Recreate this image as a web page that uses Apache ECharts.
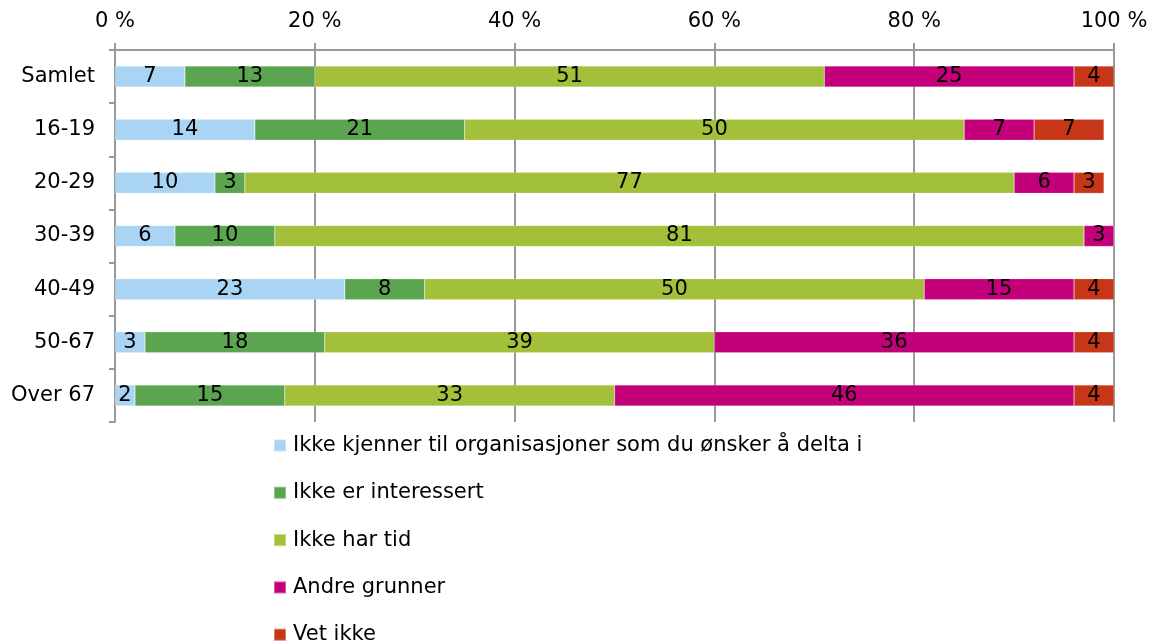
<!DOCTYPE html>
<html>
<head>
<meta charset="utf-8">
<script src="https://cdn.jsdelivr.net/npm/echarts@6/dist/echarts.min.js"></script>
<style>
  html, body { margin: 0; padding: 0; background: #fff; }
  #chart { width: 1158px; height: 644px; }
</style>
</head>
<body>
<div id="chart"></div>
<script>
// Age groups (top to bottom)
const categories = ['Samlet', '16-19', '20-29', '30-39', '40-49', '50-67', 'Over 67'];

// Share of respondents (%) per reason
const seriesNames = [
  'Ikke kjenner til organisasjoner som du ønsker å delta i',
  'Ikke er interessert',
  'Ikke har tid',
  'Andre grunner',
  'Vet ikke'
];
const ikkeKjenner   = [7, 14, 10, 6, 23, 3, 2];
const ikkeInteresse = [13, 21, 3, 10, 8, 18, 15];
const ikkeTid       = [51, 50, 77, 81, 50, 39, 33];
const andreGrunner  = [25, 7, 6, 3, 15, 36, 46];
const vetIkke       = [4, 7, 3, 0, 4, 4, 4];

const xTicks = { min: 0, max: 100, interval: 20 };

const colors = ['#AAD4F4', '#5CA550', '#A3C03A', '#C3007A', '#C73619'];
const values = [ikkeKjenner, ikkeInteresse, ikkeTid, andreGrunner, vetIkke];

const font = 'DejaVu Sans, Verdana, sans-serif';
const fs = 21;
const gridColor = '#999999';

const chart = echarts.init(document.getElementById('chart'), null, { renderer: 'canvas' });

chart.setOption({
  animation: false,
  color: colors,
  textStyle: { fontFamily: font },
  grid: { left: 115, right: 44, top: 50, height: 372, containLabel: false },
  xAxis: {
    type: 'value',
    position: 'top',
    min: xTicks.min,
    max: xTicks.max,
    interval: xTicks.interval,
    axisLine: { show: true, lineStyle: { color: gridColor, width: 2 } },
    axisTick: { show: true, inside: false, length: 7, lineStyle: { color: gridColor, width: 2 } },
    axisLabel: { formatter: '{value} %', fontSize: fs, color: '#000', margin: 18, fontFamily: font },
    splitLine: { show: true, lineStyle: { color: gridColor, width: 2 } }
  },
  yAxis: {
    type: 'category',
    data: categories,
    inverse: true,
    axisLine: { show: true, lineStyle: { color: gridColor, width: 2 } },
    axisTick: { show: true, length: 6, lineStyle: { color: gridColor, width: 2 } },
    axisLabel: { fontSize: fs, color: '#000', margin: 20, fontFamily: font }
  },
  legend: {
    orient: 'vertical',
    left: 273,
    top: 435,
    height: 260,
    padding: 0,
    icon: 'rect',
    itemWidth: 12,
    itemHeight: 12,
    itemGap: 26.3,
    textStyle: { fontSize: fs, color: '#000', fontFamily: font, padding: [0, 0, 0, 2] },
    data: seriesNames
  },
  series: seriesNames.map((name, i) => ({
    name: name,
    type: 'bar',
    stack: 'total',
    barWidth: 21,
    data: values[i],
    itemStyle: { color: colors[i], borderColor: 'rgba(255,255,255,0.35)', borderWidth: 0.5 },
    label: {
      show: true,
      position: 'inside',
      color: '#000',
      fontSize: fs,
      fontFamily: font,
      formatter: p => (p.value ? String(p.value) : '')
    }
  }))
});
</script>
</body>
</html>
